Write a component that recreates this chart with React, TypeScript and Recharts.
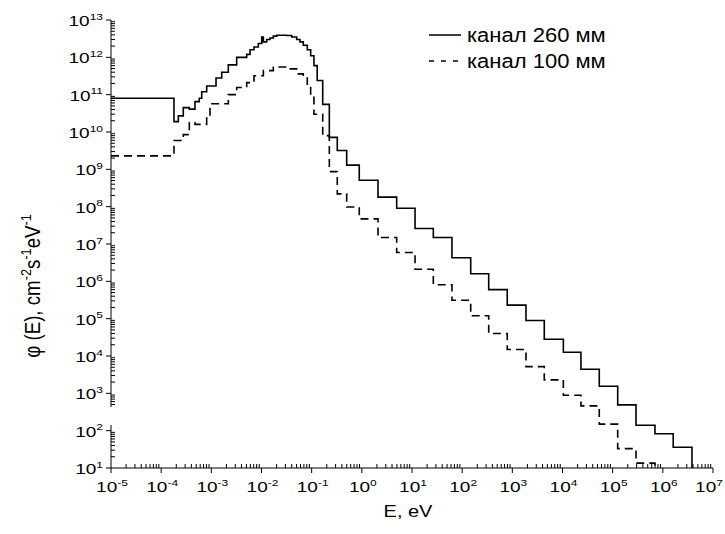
import { LineChart, Line, XAxis, YAxis, Legend } from "recharts";

const FONT = "'Liberation Sans', Arial, sans-serif";

// energy bin edges (eV) and flux, канал 260 мм
const energy260 = [
  1e-5, 1.8e-4, 2.2e-4, 2.76e-4, 3.64e-4, 4.72e-4, 5.75e-4, 6.43e-4, 8.08e-4, 1.24e-3,
  1.61e-3, 2.18e-3, 3.2e-3, 5.07e-3, 5.9e-3, 7.08e-3, 8.63e-3, 1.01e-2, 1.09e-2, 1.27e-2,
  1.48e-2, 1.72e-2, 2.01e-2, 3.18e-2, 4.0e-2, 5.03e-2, 5.85e-2, 6.81e-2, 8.18e-2, 9.55e-2,
  0.111, 0.129, 0.166, 0.225, 0.324, 0.499, 0.889, 2.1, 4.95, 11.5,
  26.6, 62.6, 148, 338, 792, 1870, 4330, 1.04e4, 2.33e4, 5.41e4,
  1.26e5, 2.92e5, 6.97e5, 1.61e6, 3.81e6,
];
const flux260 = [
  8e10, 1.9e10, 2.7e10, 4.5e10, 4.1e10, 6.5e10, 8e10, 1.2e11, 1.7e11, 2.8e11,
  4e11, 6.3e11, 1e12, 1.2e12, 1.6e12, 1.9e12, 2.35e12, 3.5e12, 2.6e12, 3.0e12,
  3.3e12, 3.7e12, 3.9e12, 3.85e12, 3.5e12, 3.0e12, 2.6e12, 2.1e12, 1.6e12, 1.1e12,
  6e11, 2.4e11, 5.5e10, 7.2e9, 3.2e9, 1.3e9, 5.1e8, 1.8e8, 9.1e7, 2.6e7,
  1.5e7, 4.3e6, 1.6e6, 6e5, 2.3e5, 8.9e4, 2.8e4, 1.26e4, 4.4e3, 1.55e3,
  490, 140, 83, 36, 10,
];

// канал 100 мм
const energy100 = [
  1e-5, 1.8e-4, 2.76e-4, 3.64e-4, 4.72e-4, 8.08e-4, 9.4e-4, 2.18e-3, 3.2e-3, 5.07e-3,
  7.08e-3, 1.09e-2, 1.72e-2, 3.18e-2, 5.03e-2, 6.81e-2, 8.18e-2, 9.55e-2, 0.111, 0.166,
  0.225, 0.324, 0.499, 0.889, 2.1, 4.95, 11.5, 26.6, 62.6, 148,
  338, 792, 1870, 4330, 1.04e4, 2.33e4, 5.41e4, 1.26e5, 2.92e5, 6.97e5,
];
const flux100 = [
  2.3e9, 5.9e9, 8.5e9, 1.8e10, 1.6e10, 2.7e10, 5.7e10, 1.0e11, 1.55e11, 2.1e11,
  3.2e11, 4.4e11, 5.5e11, 4.9e11, 3.6e11, 2.8e11, 1.9e11, 9e10, 3e10, 8e9,
  8.7e8, 2.2e8, 9.8e7, 4.7e7, 1.5e7, 5.9e6, 2.1e6, 8.1e5, 3.1e5, 1.2e5,
  4e4, 1.5e4, 5.2e3, 2.3e3, 890, 460, 150, 33, 13.5, 10,
];

const xMajor = [1e-5, 1e-4, 1e-3, 1e-2, 1e-1, 1, 10, 100, 1e3, 1e4, 1e5, 1e6, 1e7];
const yMajor = [10, 100, 1e3, 1e4, 1e5, 1e6, 1e7, 1e8, 1e9, 1e10, 1e11, 1e12, 1e13];

// log minor ticks 2..9 in each decade
const withMinors = (majors: number[]) => {
  const out: number[] = [];
  majors.forEach((m, i) => {
    out.push(m);
    if (i < majors.length - 1) for (let k = 2; k <= 9; k++) out.push(m * k);
  });
  return out;
};
const xTicks = withMinors(xMajor);
const yTicks = withMinors(yMajor);

const toPoints = (e: number[], f: number[]) => e.map((x, i) => ({ e: x, v: f[i] }));

const series = [
  { name: "канал 260 мм", data: toPoints(energy260, flux260), dash: undefined, legendDash: undefined },
  { name: "канал 100 мм", data: toPoints(energy100, flux100), dash: "8 5", legendDash: "5 7" },
];

const isMajor = (v: number) => {
  const l = Math.log10(v);
  return Math.abs(l - Math.round(l)) < 1e-6;
};
const exponent = (v: number) => Math.round(Math.log10(v));

const Pow = ({ v, anchor }: { v: number; anchor: "middle" | "end" }) => (
  <text textAnchor={anchor} fontSize={19} fontFamily={FONT} fill="#000">
    10<tspan dy={-8} fontSize={12}>{exponent(v)}</tspan>
  </text>
);

const XTick = ({ x, y, payload }: any) => {
  const major = isMajor(payload.value);
  // keep the last label inside the picture
  const lx = Math.min(x + 1, 709);
  return (
    <g>
      <line x1={x} x2={x} y1={y} y2={major ? y + 5 : y - 4} stroke="#000" />
      {major && (
        <g transform={`translate(${lx},${y + 24}) scale(1,0.8)`}>
          <Pow v={payload.value} anchor="middle" />
        </g>
      )}
    </g>
  );
};

const YTick = ({ x, y, payload }: any) => {
  const major = isMajor(payload.value);
  return (
    <g>
      <line x1={x} x2={major ? x - 5 : x + 4} y1={y} y2={y} stroke="#000" />
      {major && (
        <g transform={`translate(${x - 8},${y + 6}) scale(1,0.8)`}>
          <Pow v={payload.value} anchor="end" />
        </g>
      )}
    </g>
  );
};

const YTitle = ({ viewBox }: any) => {
  const cx = 40;
  const cy = viewBox.y + viewBox.height / 2 + 42;
  return (
    <g transform={`translate(${cx},${cy}) rotate(-90) scale(0.85,1)`}>
      <text x={0} y={0} textAnchor="middle" fontSize={22} fontFamily={FONT} fill="#000">
        φ (E), cm<tspan dy={-9} fontSize={15}>-2</tspan>
        <tspan dy={9}>s</tspan>
        <tspan dy={-9} fontSize={15}>-1</tspan>
        <tspan dy={9}>eV</tspan>
        <tspan dy={-9} fontSize={15}>-1</tspan>
      </text>
    </g>
  );
};

const XTitle = ({ viewBox }: any) => (
  <g transform={`translate(${viewBox.x + viewBox.width / 2 - 4},${viewBox.y + 49}) scale(1,0.84)`}>
    <text x={0} y={0} textAnchor="middle" fontSize={20} fontFamily={FONT} fill="#000">
      E, eV
    </text>
  </g>
);

const renderLegend = () => (
  <svg width={220} height={54}>
    {series.map((s, i) => (
      <g key={s.name}>
        <line
          x1={1}
          x2={33}
          y1={10 + i * 26}
          y2={10 + i * 26}
          stroke="#000"
          strokeWidth={1.5}
          strokeDasharray={s.legendDash}
        />
        <g transform={`translate(39,${10 + i * 26 + 7}) scale(1,0.88)`}>
          <text x={0} y={0} fontSize={22} fontFamily={FONT} fill="#000">
            {s.name}
          </text>
        </g>
      </g>
    ))}
  </svg>
);

export default function App() {
  return (
    <div style={{ position: "relative", width: 725, height: 534, background: "#fff" }}>
      <style>{"body{margin:0;background:#fff}"}</style>
      <LineChart width={725} height={534} margin={{ top: 20, right: 12, bottom: 16, left: 41 }}>
        <XAxis
          dataKey="e"
          type="number"
          scale="log"
          domain={[1e-5, 1e7]}
          allowDataOverflow
          ticks={xTicks}
          tick={<XTick />}
          interval={0}
          height={50}
          tickSize={0}
          tickMargin={0}
          tickLine={false}
          axisLine={{ stroke: "#000" }}
          label={{ content: XTitle }}
        />
        <YAxis
          type="number"
          scale="log"
          domain={[10, 1e13]}
          allowDataOverflow
          ticks={yTicks}
          tick={<YTick />}
          interval={0}
          width={70}
          tickSize={0}
          tickMargin={0}
          tickLine={false}
          axisLine={{ stroke: "#000" }}
          label={{ content: YTitle }}
        />
        <Legend
          layout="vertical"
          align="center"
          verticalAlign="middle"
          content={renderLegend}
          wrapperStyle={{ top: 25, left: 428, width: 220, height: 54 }}
        />
        {series.map((s) => (
          <Line
            key={s.name}
            data={s.data}
            dataKey="v"
            name={s.name}
            type="stepAfter"
            stroke="#000"
            strokeWidth={1.6}
            strokeDasharray={s.dash}
            dot={false}
            activeDot={false}
            isAnimationActive={false}
          />
        ))}
      </LineChart>
      {/* y-axis break */}
      <div style={{ position: "absolute", left: 106, top: 407, width: 10, height: 18, background: "#fff" }} />
    </div>
  );
}
